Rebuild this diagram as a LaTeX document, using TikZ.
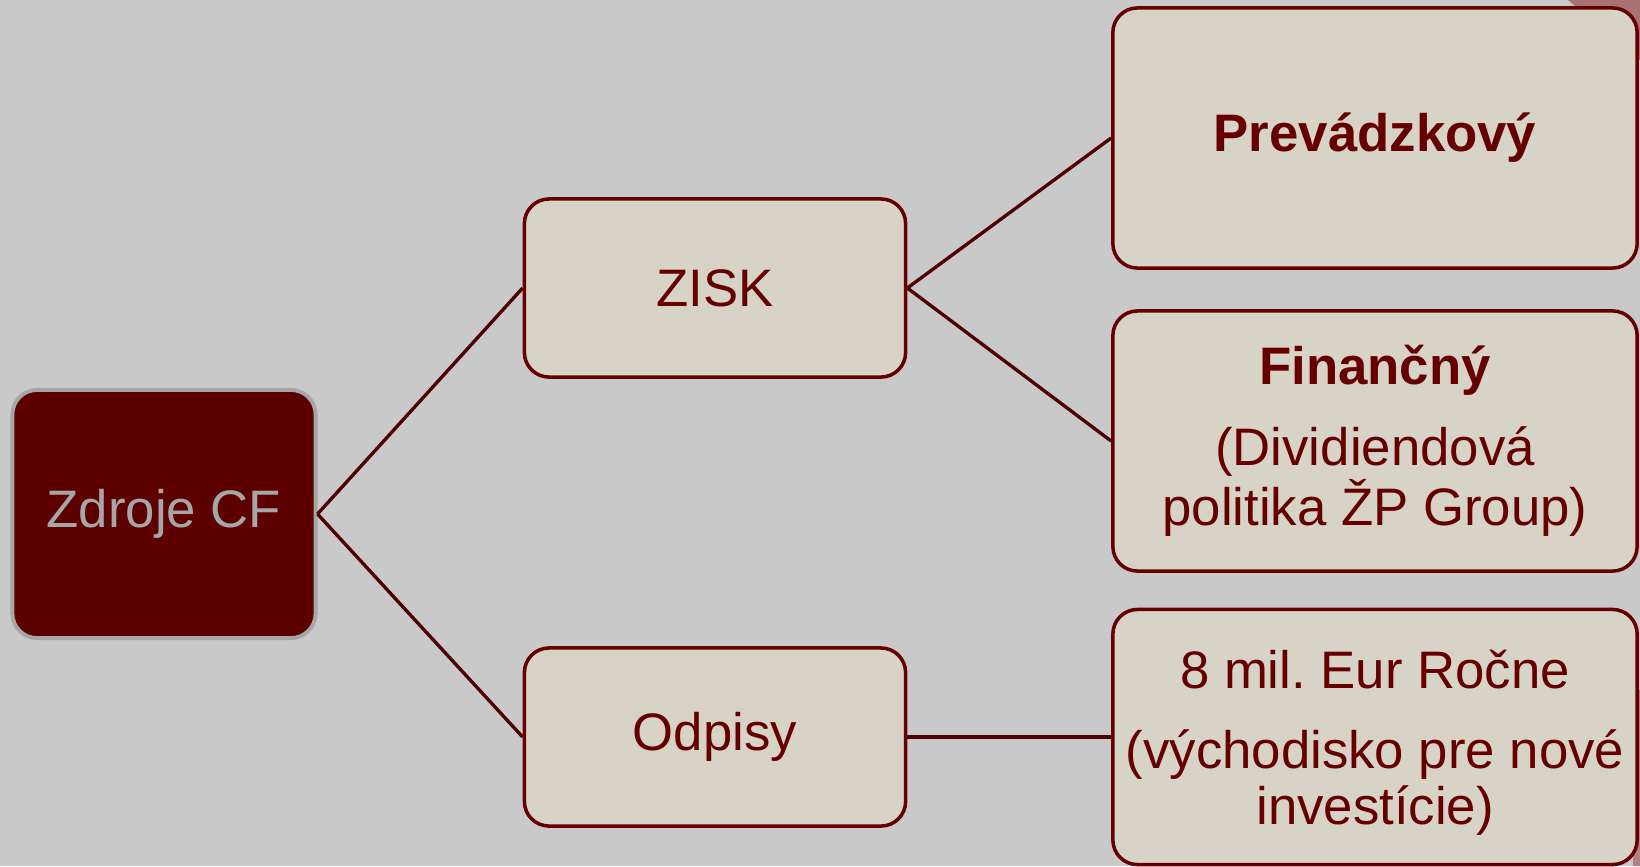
\documentclass[tikz,border=0pt]{standalone}
\usepackage{fontspec}
\setmainfont{Liberation Sans}
\definecolor{bggray}{HTML}{C9C9C9}
\definecolor{boxfill}{HTML}{D7D3C7}
\definecolor{boxred}{HTML}{660000}
\definecolor{linkred}{HTML}{4F0000}
\definecolor{rootred}{HTML}{5C0000}
\definecolor{rootgray}{HTML}{A6A6A6}
\definecolor{decopink}{HTML}{A87272}

\begin{document}
\begin{tikzpicture}[x=0.01cm, y=-0.01cm, line width=1pt,
	box/.style={draw=boxred, fill=boxfill, text=boxred, rounded corners=7pt, align=center, inner sep=0pt,
		font=\fontsize{15}{15.8}\selectfont},
	midbox/.style={box, minimum width=3.81cm, minimum height=1.78cm},
	bigbox/.style={box, minimum width=5.24cm, minimum height=2.6cm},
	link/.style={draw=linkred, line width=0.95pt}]
			\useasboundingbox (0,0) rectangle (1640,866);
			\fill[bggray] (0,0) rectangle (1640,866);
			\fill[decopink] (1568,0) -- (1640,0) -- (1640,60) -- cycle;
			\fill[decopink!80!bggray] (1635,690) -- (1640,690) -- (1640,866) -- (1633,866) -- cycle;
			% root
			\node[box, draw=rootgray, fill=rootred, text=rootgray, line width=1.1pt,
				minimum width=3.03cm, minimum height=2.48cm] (zdroje) at (164,514) {Zdroje CF};
			% middle column
			\node[midbox] (zisk) at (715,288) {ZISK};
			\node[midbox] (odpisy) at (715,737) {Odpisy};
			% right column
			\node[bigbox] (prev) at (1375,138) {\raisebox{-3pt}{\textbf{Prevádzkový}}};
			\node[bigbox] (fin) at (1375,441) {\textbf{Finančný}\\[7pt](Dividiendová\\politika ŽP Group)};
			\node[bigbox, minimum height=2.55cm] (rocne) at (1375,737) {\rule{0pt}{14pt}8 mil.\ Eur Ročne\\[7pt](východisko pre nové\\investície)};
			% links
			\draw[link] (zdroje.east) -- (zisk.west);
			\draw[link] (zdroje.east) -- (odpisy.west);
			\draw[link] (zisk.east) -- (prev.west);
			\draw[link] (zisk.east) -- (fin.west);
			\draw[link] (odpisy.east) -- (rocne.west);
\end{tikzpicture}
\end{document}
